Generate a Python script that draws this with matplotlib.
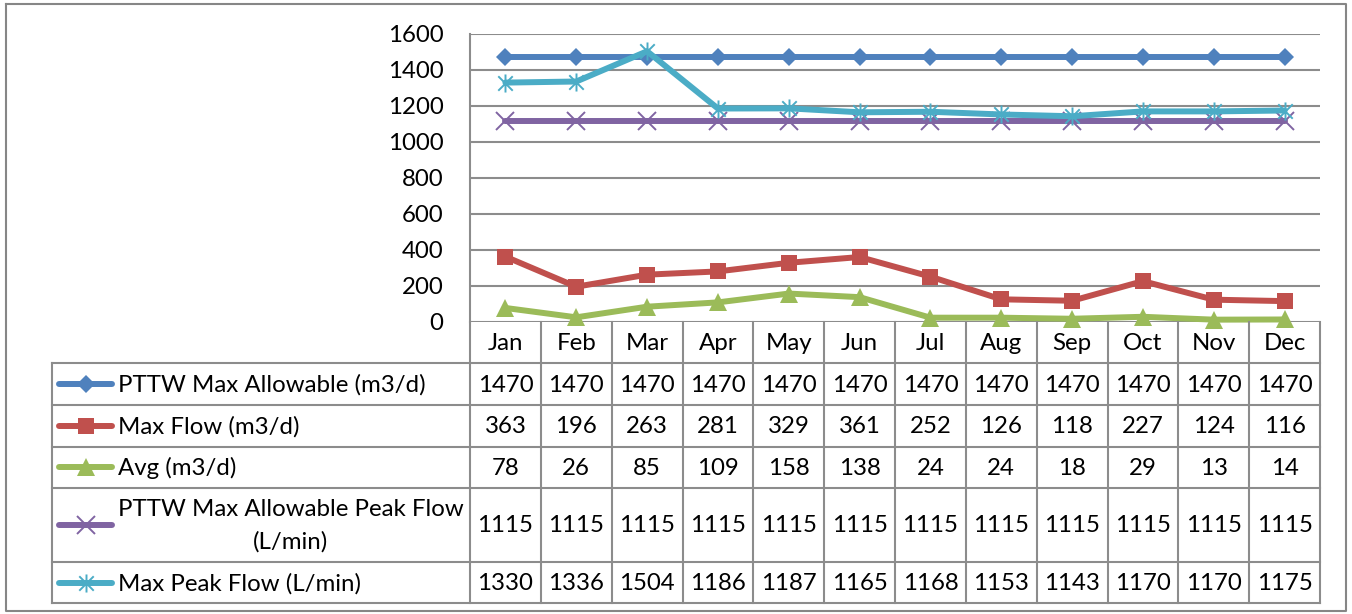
import matplotlib
matplotlib.use("Agg")
import matplotlib.pyplot as plt
from matplotlib.path import Path
import numpy as np

months = ["Jan", "Feb", "Mar", "Apr", "May", "Jun", "Jul", "Aug", "Sep", "Oct", "Nov", "Dec"]
pttw_max_allowable = [1470, 1470, 1470, 1470, 1470, 1470, 1470, 1470, 1470, 1470, 1470, 1470]
max_flow = [363, 196, 263, 281, 329, 361, 252, 126, 118, 227, 124, 116]
avg_flow = [78, 26, 85, 109, 158, 138, 24, 24, 18, 29, 13, 14]
pttw_peak = [1115, 1115, 1115, 1115, 1115, 1115, 1115, 1115, 1115, 1115, 1115, 1115]
max_peak = [1330, 1336, 1504, 1186, 1187, 1165, 1168, 1153, 1143, 1170, 1170, 1175]
series_names = ["PTTW Max Allowable (m3/d)", "Max Flow (m3/d)", "Avg (m3/d)",
                "PTTW Max Allowable Peak Flow\n(L/min)", "Max Peak Flow (L/min)"]
y_ticks = [0, 200, 400, 600, 800, 1000, 1200, 1400, 1600]

plt.rcParams['font.family'] = ['Lato', 'DejaVu Sans']
FS = 17.3

W, H = 1352, 614
fig = plt.figure(figsize=(W / 100, H / 100), dpi=100)

# pixel geometry
PL, PR, PT, PB = 470, 1320, 34, 322
GRID = "#8c8c8c"

ax = fig.add_axes([PL / W, 1 - PB / H, (PR - PL) / W, (PB - PT) / H])
ax.set_xlim(-0.5, 11.5)
ax.set_ylim(0, 1600)
ax.set_yticks(y_ticks)
ax.set_yticklabels([str(v) for v in y_ticks], fontsize=FS)
ax.tick_params(axis='y', length=0, pad=19)
ax.set_xticks([])
for s in ["top", "right", "bottom"]:
    ax.spines[s].set_visible(False)
ax.spines["left"].set_color(GRID)
ax.spines["left"].set_linewidth(1.5)
ax.grid(axis='y', color=GRID, linewidth=1.5)
ax.set_axisbelow(True)

# asterisk marker
star_path = Path([(-1, -1), (1, 1), (-1, 1), (1, -1), (0, -1.25), (0, 1.25)],
                 [Path.MOVETO, Path.LINETO, Path.MOVETO, Path.LINETO, Path.MOVETO, Path.LINETO])

colors = ["#4F81BD", "#C0504D", "#9BBB59", "#8064A2", "#4BACC6"]
styles = [
    dict(marker='D', ms=9, mew=0),
    dict(marker='s', ms=11, mew=0),
    dict(marker='^', ms=13, mew=0),
    dict(marker='x', ms=13, mew=1.4),
    dict(marker=star_path, ms=13, mew=1.4),
]
data = [pttw_max_allowable, max_flow, avg_flow, pttw_peak, max_peak]
x = np.arange(len(months))
for vals, c, st in zip(data, colors, styles):
    ax.plot(x, vals, color=c, lw=4.3, solid_capstyle='round', clip_on=False,
            markerfacecolor=c, markeredgecolor=c, **st)

# overlay for table
ov = fig.add_axes([0, 0, 1, 1])
ov.set_xlim(0, W)
ov.set_ylim(H, 0)
ov.axis('off')

# outer border
ov.plot([6, 1346, 1346, 6, 6], [4, 4, 611, 611, 4], color="#868686", lw=1.5)

col_w = (PR - PL) / 12
row_y = [PB, 363, 405, 446.5, 488, 562, 603]
# horizontal lines
for y in row_y[1:]:
    ov.plot([52, PR], [y, y], color=GRID, lw=1.5)
# vertical lines
for i in range(13):
    xx = PL + i * col_w
    ov.plot([xx, xx], [PB, row_y[-1]], color=GRID, lw=1.5)
ov.plot([52, 52], [row_y[1], row_y[-1]], color=GRID, lw=1.5)

# header
for i, m in enumerate(months):
    ov.text(PL + (i + 0.5) * col_w, (row_y[0] + row_y[1]) / 2 + 1, m,
            ha='center', va='center', fontsize=FS)

# rows
for r, (vals, c, st, name) in enumerate(zip(data, colors, styles, series_names)):
    yc = (row_y[r + 1] + row_y[r + 2]) / 2
    for i, v in enumerate(vals):
        ov.text(PL + (i + 0.5) * col_w, yc + 1, str(v), ha='center', va='center', fontsize=FS)
    ov.plot([59, 112], [yc, yc], color=c, lw=4.3, solid_capstyle='round')
    ov.plot([85.5], [yc], color=c, markerfacecolor=c, markeredgecolor=c, **st)
    ov.text(118, yc + 1, name, ha='left', va='center', fontsize=FS,
            multialignment='center', linespacing=1.6)

fig.savefig("out.png", dpi=100)
